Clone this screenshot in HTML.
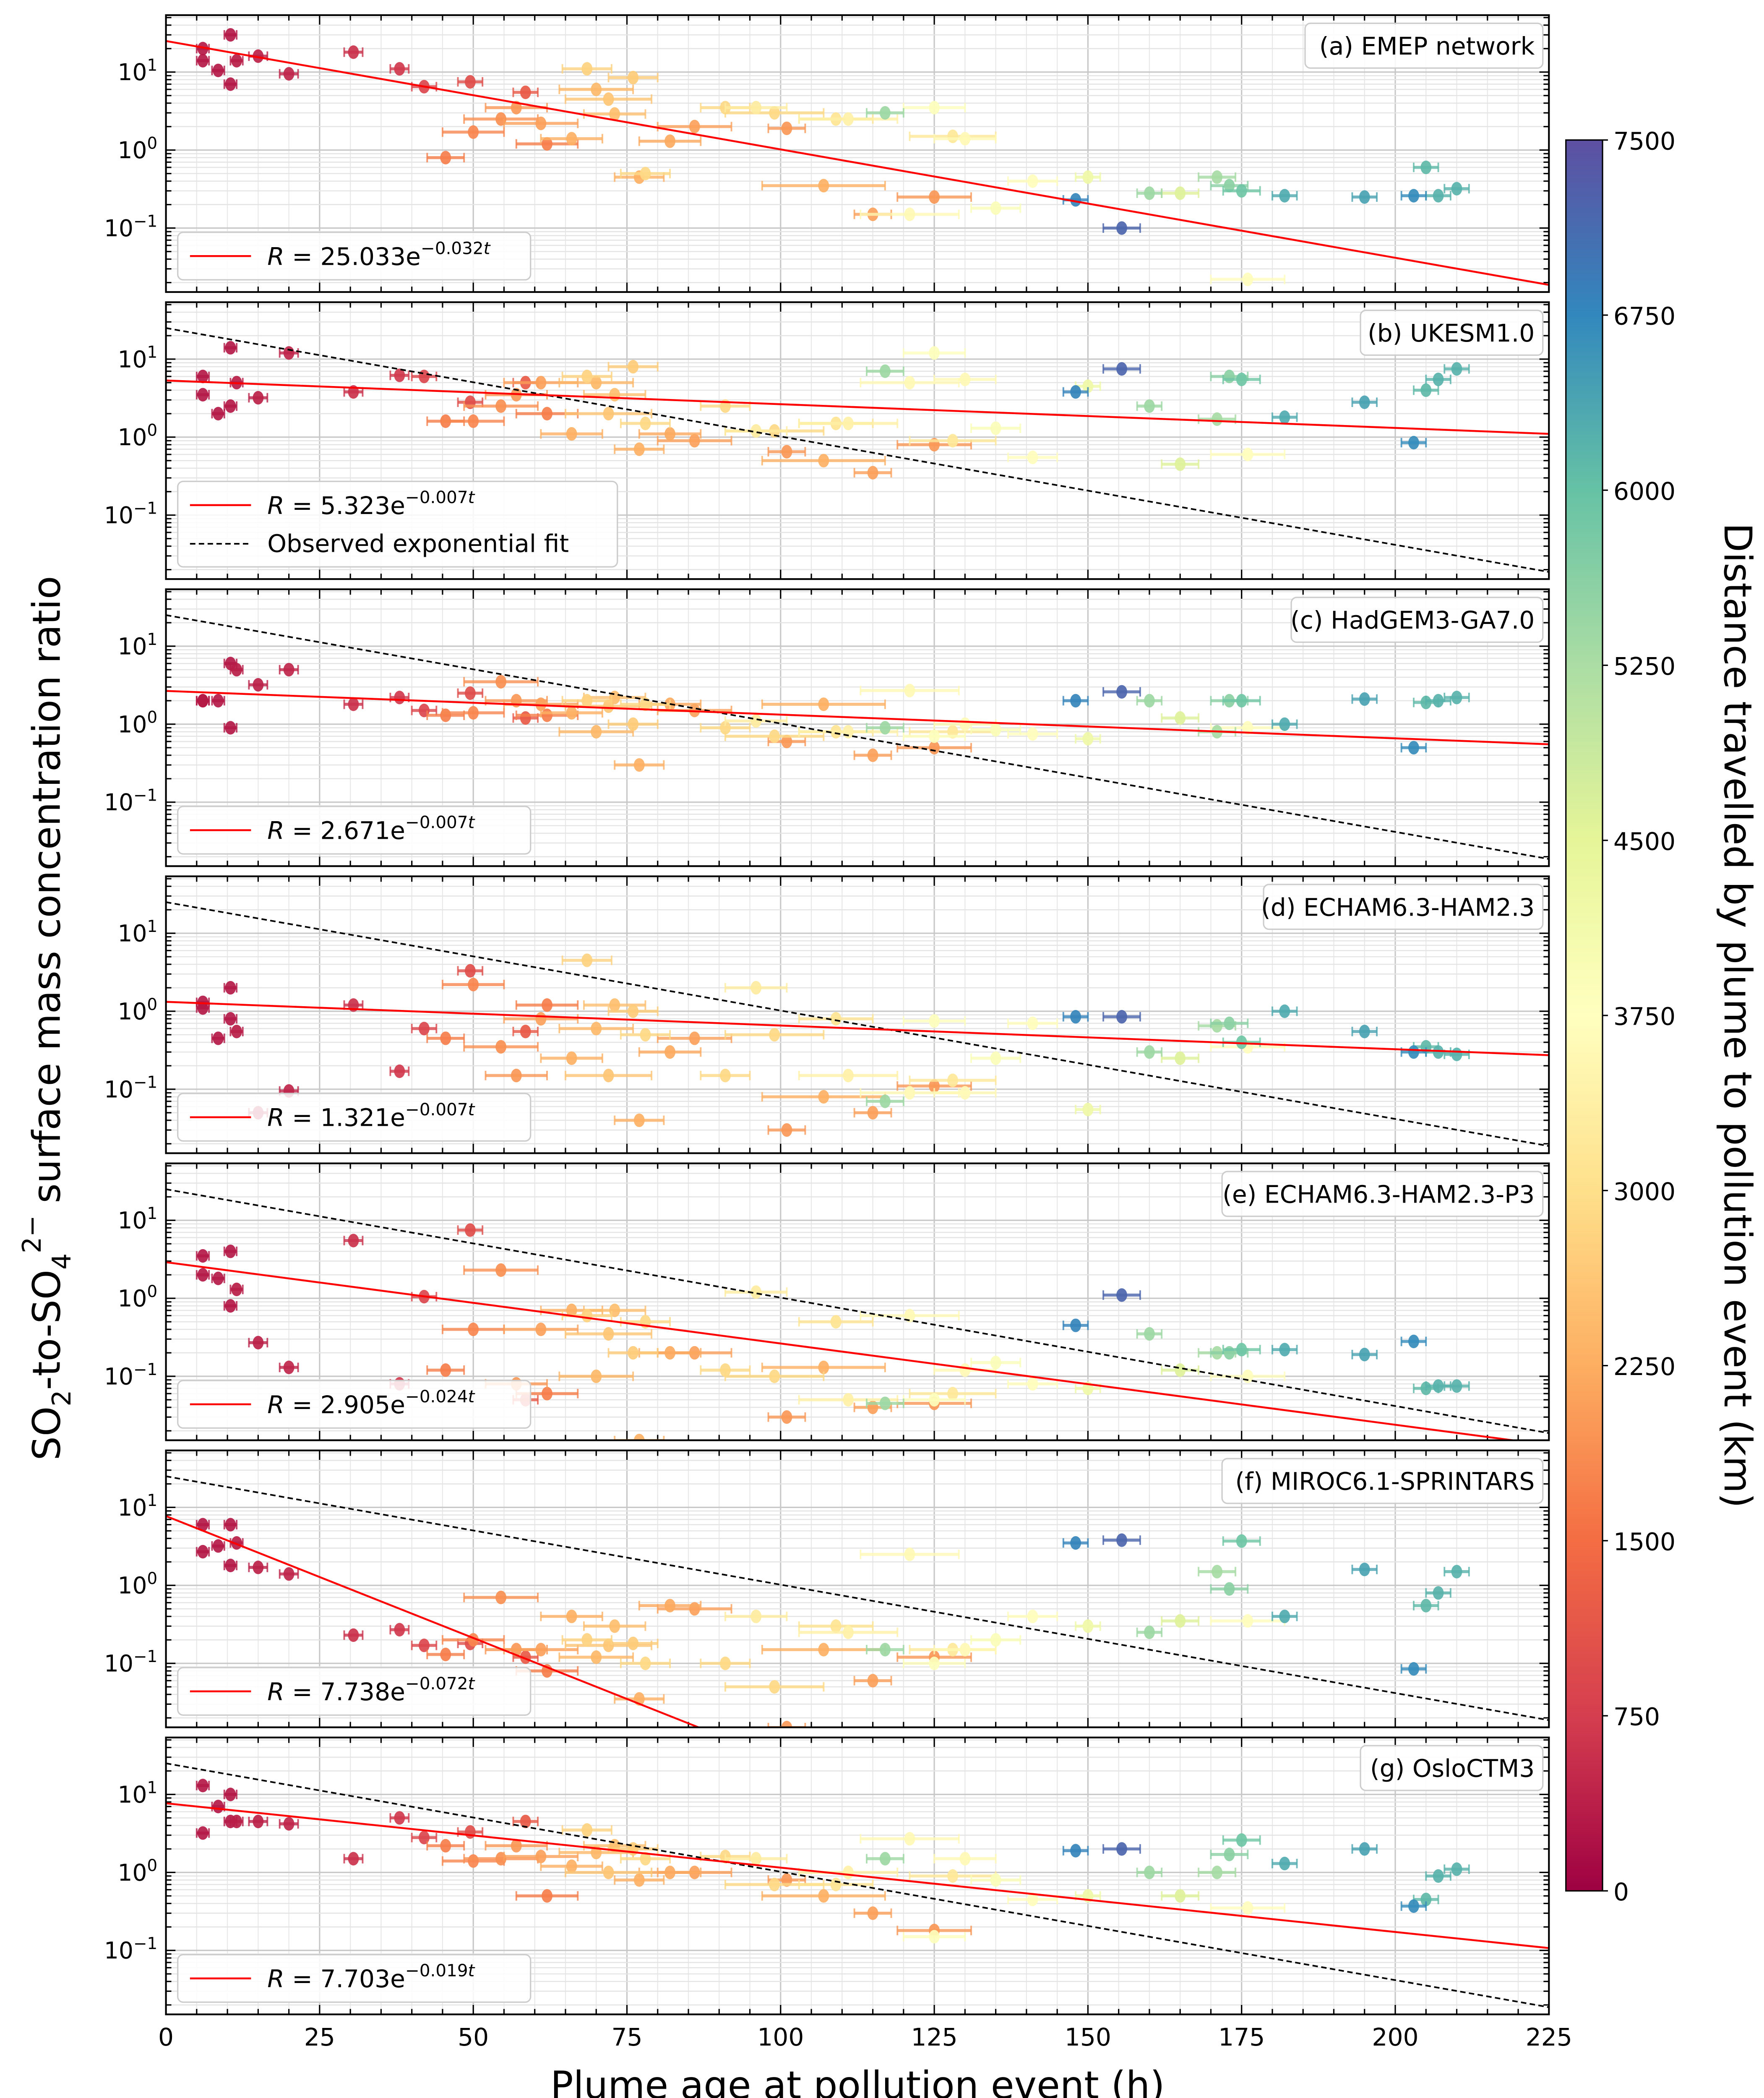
<!DOCTYPE html>
<html><head><meta charset="utf-8"><style>
html,body{margin:0;padding:0;background:#fff;overflow:hidden;width:4205px;height:5060px;}
svg{position:absolute;left:0;top:0;display:block;font-family:"DejaVu Sans","Liberation Sans",sans-serif;}
</style></head><body>
<svg id="chart" width="4205" height="5060" viewBox="0 0 1300 1564" xmlns="http://www.w3.org/2000/svg">
<rect width="1300" height="1564" fill="#fff"/>
<g id="plots"></g>
<g id="cbar"></g>
<text x="632" y="1546" font-size="28" text-anchor="middle">Plume age at pollution event (h)</text>
<text transform="translate(44,750) rotate(-90)" font-size="28" text-anchor="middle">SO<tspan font-size="19" dy="8">2</tspan><tspan dy="-8">-to-SO</tspan><tspan font-size="19" dy="8">4</tspan><tspan font-size="19" dy="-22">2−</tspan><tspan dy="14"> surface mass concentration ratio</tspan></text>
<text transform="translate(1271,748) rotate(90)" font-size="28" text-anchor="middle">Distance travelled by plume to pollution event (km)</text>
</svg>
<script>
// ---- data ----
const ages = [6,6,8.5,10.5,10.5,11.5,15,20,30.5,38,42,49.5,45.5,50,54.5,57,58.5,61,66,68.5,70,72,73,76,77,78,82,86,91,96,99,101,107,109,111,115,117,121,125,128,130,135,141,148,150,155.5,160,165,171,173,175,182,195,203,205,207,210,176,125,62];
const distances = [300,300,300,300,300,350,400,450,600,700,900,1000,1700,1800,1900,2000,1200,2100,2300,2800,2400,2600,2500,2700,2300,2900,2200,2100,2900,3300,2900,2000,2300,3100,3400,2100,5400,3600,3800,3200,3600,3900,3700,6800,4200,7200,5400,4600,5300,5600,5900,6300,6400,6700,6100,6200,6200,3700,2000,1700];
const ageErr = [1,1,1,1,1,1,1.5,1.5,1.5,1.5,2,2,3,5,6,5,2,6,5,4,6,7,5,4,4,4,5,6,4,5,8,3,10,6,8,3,3,8,5,7,5,4,4,2,2,3,2,3,3,3,3,2,2,2,2,2,2,6,6,5];
const valsA = [20,14,10.5,30,7,14,16,9.5,18,11,6.5,7.5,0.8,1.7,2.5,3.5,5.5,2.2,1.4,11,6,4.5,2.9,8.5,0.45,0.5,1.3,2,3.5,3.5,3,1.9,0.35,2.5,2.5,0.15,3,0.15,3.5,1.5,1.4,0.18,0.4,0.23,0.45,0.1,0.28,0.28,0.45,0.35,0.3,0.26,0.25,0.26,0.6,0.26,0.32,0.022,0.25,1.2];
const valsB = [6,3.5,2,14,2.5,5,3.2,12,3.8,6.2,6,2.8,1.6,1.6,2.5,3.5,5,5,1.1,6,5,2,3.5,8,0.7,1.5,1.1,0.9,2.5,1.2,1.2,0.65,0.5,1.5,1.5,0.35,7,5,12,0.9,5.5,1.3,0.55,3.8,4.5,7.5,2.5,0.45,1.7,6,5.5,1.8,2.8,0.85,4,5.5,7.5,0.6,0.8,2];
const valsC = [2,2,2,6,0.9,5,3.2,5,1.8,2.2,1.5,2.5,1.3,1.4,3.5,2,1.2,1.8,1.4,2,0.8,1.7,2.2,1,0.3,1.8,1.8,1.5,0.9,1.1,0.7,0.6,1.8,0.8,0.8,0.4,0.9,2.7,0.7,0.8,1,0.85,0.75,2,0.65,2.6,2,1.2,0.8,2,2,1,2.1,0.5,1.9,2,2.2,0.9,0.5,1.3];
const valsD = [1.3,1.1,0.45,2,0.8,0.55,0.05,0.095,1.2,0.17,0.6,3.3,0.45,2.2,0.35,0.15,0.55,0.8,0.25,4.5,0.6,0.15,1.2,1,0.04,0.5,0.3,0.45,0.15,2,0.5,0.03,0.08,0.8,0.15,0.05,0.07,0.09,0.75,0.13,0.09,0.25,0.7,0.85,0.055,0.85,0.3,0.25,0.65,0.7,0.4,1,0.55,0.3,0.35,0.3,0.28,0.35,0.11,1.2];
const valsE = [3.5,2,1.8,4,0.8,1.3,0.27,0.13,5.5,0.08,1.05,7.5,0.12,0.4,2.3,0.08,0.05,0.4,0.7,0.6,0.1,0.35,0.7,0.2,0.015,0.5,0.2,0.2,0.12,1.2,0.1,0.03,0.13,0.5,0.05,0.04,0.045,0.6,0.05,0.06,0.12,0.15,0.08,0.45,0.07,1.1,0.35,0.12,0.2,0.2,0.22,0.22,0.19,0.28,0.07,0.075,0.075,0.1,0.045,0.06];
const valsF = [6,2.7,3.2,6,1.8,3.5,1.7,1.4,0.23,0.27,0.17,0.18,0.13,0.2,0.7,0.15,0.12,0.15,0.4,0.2,0.12,0.17,0.3,0.18,0.035,0.1,0.55,0.5,0.1,0.4,0.05,0.015,0.15,0.3,0.25,0.06,0.15,2.5,0.1,0.15,0.15,0.2,0.4,3.5,0.3,3.8,0.25,0.35,1.5,0.9,3.7,0.4,1.6,0.085,0.55,0.8,1.5,0.35,0.12,0.08];
const valsG = [13,3.2,7,10,4.5,4.5,4.5,4.2,1.5,5,2.8,3.3,2.2,1.4,1.5,2.2,4.5,1.6,1.2,3.5,1.8,1,2.2,2,0.8,1.5,1,1,1.6,1.5,0.7,0.8,0.5,0.7,1,0.3,1.5,2.7,0.15,0.9,1.5,0.8,0.45,1.9,0.5,2,1,0.5,1,1.7,2.6,1.3,2,0.37,0.45,0.9,1.1,0.35,0.18,0.5];
const panelTitles = ["(a) EMEP network","(b) UKESM1.0","(c) HadGEM3-GA7.0","(d) ECHAM6.3-HAM2.3","(e) ECHAM6.3-HAM2.3-P3","(f) MIROC6.1-SPRINTARS","(g) OsloCTM3"];
const fitA = [25.033,5.323,2.671,1.321,2.905,7.738,7.703];
const fitK = [0.032,0.007,0.007,0.007,0.024,0.072,0.019];
const obsA = 25.033, obsK = 0.032;
const xTicks = [0,25,50,75,100,125,150,175,200,225];
const cbTicks = [0,750,1500,2250,3000,3750,4500,5250,6000,6750,7500];
const allVals = [valsA,valsB,valsC,valsD,valsE,valsF,valsG];

// ---- helpers ----
const NS="http://www.w3.org/2000/svg";
function mk(tag, attrs, parent){const e=document.createElementNS(NS,tag);for(const k in attrs)e.setAttribute(k,attrs[k]);parent.appendChild(e);return e;}
const X0=122.3,X1=1141.5,LMIN=-1.82,LMAX=1.73,PH=204;
const xs=t=>X0+(t/225)*(X1-X0);
const pTop=i=>11+i*211.5;
const ys=(v,i)=>pTop(i)+(LMAX-Math.log10(v))/(LMAX-LMIN)*PH;
const spec=["#9e0142","#d53e4f","#f46d43","#fdae61","#fee08b","#ffffbf","#e6f598","#abdda4","#66c2a5","#3288bd","#5e4fa2"];
function hex(h){return [1,3,5].map(i=>parseInt(h.substr(i,2),16));}
function cmap(d){let f=Math.max(0,Math.min(1,d/7500))*10;let i=Math.min(9,Math.floor(f));let u=f-i;const a=hex(spec[i]),b=hex(spec[i+1]);return "rgb("+a.map((c,k)=>Math.round(c+(b[k]-c)*u)).join(",")+")";}

const plots=document.getElementById('plots');
for(let p=0;p<7;p++){
  const g=mk('g',{},plots);
  
  
  const T=pTop(p),B=T+PH;
  const cid='clip'+p;
  const cp=mk('clipPath',{id:cid},g);mk('rect',{x:X0,y:T,width:X1-X0,height:PH},cp);
  const grid=mk('g',{'clip-path':'url(#'+cid+')'},g);
  
  
  for(let t=0;t<=225;t+=5){mk('line',{x1:xs(t),x2:xs(t),y1:T,y2:B,stroke:t%25==0?'#c8c8c8':'#e8e8e8','stroke-width':t%25==0?1:0.7},grid);}
  for(let e=-2;e<=1;e++)for(let m=1;m<10;m++){const v=m*Math.pow(10,e);const l=Math.log10(v);if(l<LMIN||l>LMAX)continue;const y=ys(v,p);mk('line',{x1:X0,x2:X1,y1:y,y2:y,stroke:m==1?'#c8c8c8':'#e4e4e4','stroke-width':m==1?1:0.8},grid);
    mk('line',{x1:X0,x2:X0+(m==1?7:4),y1:y,y2:y,stroke:'#000','stroke-width':1},g);mk('line',{x1:X1,x2:X1-(m==1?7:4),y1:y,y2:y,stroke:'#000','stroke-width':1},g);}
  for(let t=5;t<225;t+=5){const mj=t%25==0;mk('line',{x1:xs(t),x2:xs(t),y1:B,y2:B-(mj?7:4),stroke:'#000'},g);mk('line',{x1:xs(t),x2:xs(t),y1:T,y2:T+(mj?7:4),stroke:'#000'},g);}
  [1,0,-1].forEach(e=>{const y=ys(Math.pow(10,e),p);const tx=mk('text',{x:116,y:y+6,'font-size':17,'text-anchor':'end'},g);tx.innerHTML='10<tspan font-size="12" dy="-7">'+(e<0?'−1':e)+'</tspan>';});
  const pts=mk('g',{'clip-path':'url(#'+cid+')'},g);
  
  
  const vals=allVals[p];
  const order=ages.map((a,i)=>i).sort((a,b)=>distances[a]-distances[b]);
  order.forEach(i=>{const c=cmap(distances[i]);const x=xs(ages[i]),y=ys(vals[i],p);const e=ageErr[i]/225*(X1-X0);
    mk('line',{x1:x-e,x2:x+e,y1:y,y2:y,stroke:c,'stroke-width':2.2,opacity:0.8},pts);
    mk('line',{x1:x-e,x2:x-e,y1:y-3.5,y2:y+3.5,stroke:c,'stroke-width':1.2,opacity:0.8},pts);
    mk('line',{x1:x+e,x2:x+e,y1:y-3.5,y2:y+3.5,stroke:c,'stroke-width':1.2,opacity:0.8},pts);
    const pt=mk('ellipse',{cx:x,cy:y,rx:4,ry:5,fill:c,opacity:0.92},pts);
    
    
  });
  const fits=mk('g',{'clip-path':'url(#'+cid+')'},g);
  if(p>0){const l=mk('line',{x1:xs(0),y1:ys(obsA,p),x2:xs(225),y2:ys(obsA*Math.exp(-obsK*225),p),stroke:'#000','stroke-width':1.2,'stroke-dasharray':'4,2.5'},fits);
    
    }
  const fl=mk('line',{x1:xs(0),y1:ys(fitA[p],p),x2:xs(225),y2:ys(fitA[p]*Math.exp(-fitK[p]*225),p),stroke:'#ff0000','stroke-width':1.4},fits);
  
  
  mk('rect',{x:X0,y:T,width:X1-X0,height:PH,fill:'none',stroke:'#000','stroke-width':1.3},g);
  const tt=panelTitles[p];const tw=tt.length*10.2+12;
  const tb=mk('rect',{x:1137-tw,y:T+6,width:tw,height:33,rx:4,fill:'#fff','fill-opacity':0.85,stroke:'#ccc'},g);
  
  
  const tx=mk('text',{x:1131,y:T+29,'font-size':18,'text-anchor':'end'},g);tx.textContent=tt;
  
  
  const two=p==1;const lh=two?63:35;const ly=B-9-lh;
  const lg=mk('g',{},g);
  
  
  mk('rect',{x:131,y:ly,width:two?324:260,height:lh,rx:4,fill:'#fff','fill-opacity':0.85,stroke:'#ccc'},lg);
  mk('line',{x1:140,x2:185,y1:ly+17.5,y2:ly+17.5,stroke:'#ff0000','stroke-width':1.4},lg);
  const lt=mk('text',{x:197,y:ly+24,'font-size':18},lg);
  lt.innerHTML='<tspan font-style="italic">R</tspan> =  '+fitA[p].toFixed(3)+'e<tspan font-size="12.5" dy="-8">−'+fitK[p].toFixed(3)+'<tspan font-style="italic">t</tspan></tspan>';
  if(two){mk('line',{x1:140,x2:185,y1:ly+46,y2:ly+46,stroke:'#000','stroke-width':1.2,'stroke-dasharray':'4,2.5'},lg);const t2=mk('text',{x:197,y:ly+52,'font-size':18},lg);t2.textContent='Observed exponential fit';}
  if(p==6){xTicks.forEach(t=>{const xt=mk('text',{x:xs(t),y:B+23,'font-size':18,'text-anchor':'middle'},g);xt.textContent=t;
    
    });}
}
const cb=document.getElementById('cbar');


const CX=1154,CW=27,CT=103,CB=1393;
const defs=mk('defs',{},cb);const lgd=mk('linearGradient',{id:'cg',x1:0,y1:1,x2:0,y2:0},defs);
spec.forEach((c,i)=>mk('stop',{offset:i/10,'stop-color':c},lgd));
mk('rect',{x:CX,y:CT,width:CW,height:CB-CT,fill:'url(#cg)',stroke:'#000','stroke-width':1},cb);
cbTicks.forEach(v=>{const y=CB-(v/7500)*(CB-CT);mk('line',{x1:CX+CW,x2:CX+CW+4,y1:y,y2:y,stroke:'#000'},cb);const t=mk('text',{x:CX+CW+8,y:y+7,'font-size':18},cb);t.textContent=v;
  
  });
</script>
</body></html>
